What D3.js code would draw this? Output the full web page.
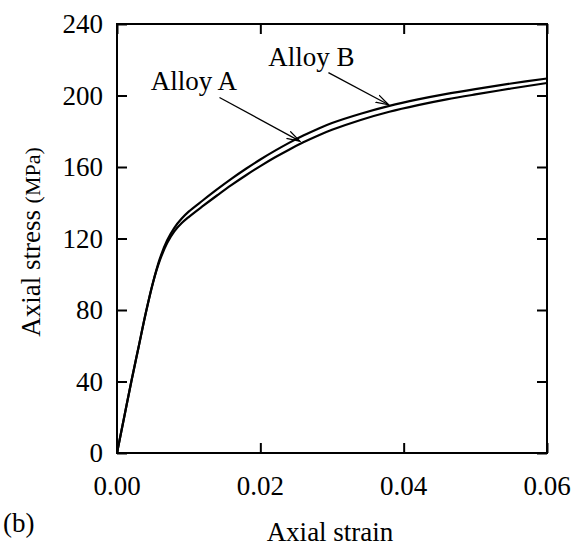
<!DOCTYPE html>
<html>
<head>
<meta charset="utf-8">
<script src="https://cdn.jsdelivr.net/npm/d3@7"></script>
<style>
  html, body { margin: 0; padding: 0; background: #fff; }
  svg { display: block; }
  text { font-family: "Liberation Serif", "Times New Roman", serif; fill: #000; }
</style>
</head>
<body>
<svg id="chart" width="572" height="549"></svg>
<script>
// ---- data ----
const strain = [0, 0.001, 0.002, 0.003, 0.004, 0.005, 0.006, 0.007, 0.008, 0.009, 0.010,
  0.012, 0.014, 0.016, 0.018, 0.020, 0.022, 0.024, 0.026, 0.028, 0.030, 0.034, 0.038,
  0.042, 0.046, 0.050, 0.055, 0.060];
const alloyB = [0, 20, 40, 59, 78, 95, 109, 119, 126, 131, 135,
  141.4, 147.6, 153.5, 159.0, 164.2, 169.0, 173.5, 177.6, 181.3, 184.6, 189.8, 194.2,
  197.8, 200.9, 203.6, 206.7, 209.5];
const alloyA = [0, 20, 40, 59, 78, 95, 108, 117.5, 124, 128.5, 132,
  138.2, 144.2, 150.0, 155.4, 160.5, 165.3, 169.7, 173.8, 177.5, 180.8, 186.3, 190.9,
  194.6, 197.8, 200.6, 203.9, 207];
const xTicks = [0, 0.02, 0.04, 0.06];
const yTicks = [0, 40, 80, 120, 160, 200, 240];
const xTickLabels = ["0.00", "0.02", "0.04", "0.06"];
const yTickLabels = ["0", "40", "80", "120", "160", "200", "240"];
// annotations (data coordinates)
const annotLabels = ["Alloy A", "Alloy B"];
const annotText = [[0.0047, 203], [0.0211, 216.6]];
const annotFrom = [[0.0143, 198.9], [0.0295, 212.8]];
const annotTo = [[0.0255, 174.5], [0.0379, 194.8]];

// ---- layout ----
const svg = d3.select("#chart");
const L = 117, R = 547, T = 24, B = 453;
const x = d3.scaleLinear().domain([0, 0.06]).range([L, R]);
const y = d3.scaleLinear().domain([0, 240]).range([B, T]);
const FS = 27;

// frame
svg.append("rect").attr("x", L).attr("y", T).attr("width", R - L).attr("height", B - T)
  .attr("fill", "none").attr("stroke", "#000").attr("stroke-width", 2);

// axes with inward ticks
const tl = 10;
const gx = svg.append("g").attr("transform", `translate(0,${B})`)
  .call(d3.axisTop(x).tickValues(xTicks).tickSize(tl).tickFormat(""));
const gxt = svg.append("g").attr("transform", `translate(0,${T})`)
  .call(d3.axisBottom(x).tickValues(xTicks).tickSize(tl).tickFormat(""));
const gy = svg.append("g").attr("transform", `translate(${L},0)`)
  .call(d3.axisRight(y).tickValues(yTicks).tickSize(tl).tickFormat(""));
const gyr = svg.append("g").attr("transform", `translate(${R},0)`)
  .call(d3.axisLeft(y).tickValues(yTicks).tickSize(tl).tickFormat(""));
[gx, gxt, gy, gyr].forEach(g => {
  g.select(".domain").remove();
  g.selectAll("line").attr("stroke", "#000").attr("stroke-width", 2);
});

// tick labels
svg.append("g").selectAll("text").data(xTicks).join("text")
  .attr("x", d => x(d)).attr("y", B + 42)
  .attr("text-anchor", "middle").attr("font-size", FS)
  .text((d, i) => xTickLabels[i]);
svg.append("g").selectAll("text").data(yTicks).join("text")
  .attr("x", L - 14).attr("y", d => y(d)).attr("dy", "0.34em")
  .attr("text-anchor", "end").attr("font-size", FS)
  .text((d, i) => yTickLabels[i]);

// axis titles
svg.append("text").attr("x", 330).attr("y", 541).attr("text-anchor", "middle")
  .attr("font-size", FS).text("Axial strain");
const yl = svg.append("text").attr("transform", `translate(40,242) rotate(-90)`)
  .attr("text-anchor", "middle").attr("font-size", FS);
yl.append("tspan").text("Axial stress ");
yl.append("tspan").attr("font-size", 22).text("(MPa)");
svg.append("text").attr("x", 3).attr("y", 532).attr("font-size", FS).text("(b)");

// curves
const line = d3.line().x(d => x(d[0])).y(d => y(d[1])).curve(d3.curveCatmullRom.alpha(0.5));
svg.append("path").datum(strain.map((s, i) => [s, alloyA[i]]))
  .attr("d", line).attr("fill", "none").attr("stroke", "#000").attr("stroke-width", 2.2);
svg.append("path").datum(strain.map((s, i) => [s, alloyB[i]]))
  .attr("d", line).attr("fill", "none").attr("stroke", "#000").attr("stroke-width", 2.2);

// annotations
svg.append("defs").append("marker").attr("id", "arr")
  .attr("viewBox", "0 0 14 10").attr("refX", 13).attr("refY", 5)
  .attr("markerWidth", 14).attr("markerHeight", 10).attr("markerUnits", "userSpaceOnUse")
  .attr("orient", "auto")
  .append("path").attr("d", "M0,1 L13,5 L0,9").attr("fill", "none")
  .attr("stroke", "#000").attr("stroke-width", 1.3);
annotLabels.forEach((lab, i) => {
  svg.append("text").attr("x", x(annotText[i][0])).attr("y", y(annotText[i][1]))
    .attr("font-size", FS).text(lab);
  svg.append("line")
    .attr("x1", x(annotFrom[i][0])).attr("y1", y(annotFrom[i][1]))
    .attr("x2", x(annotTo[i][0])).attr("y2", y(annotTo[i][1]))
    .attr("stroke", "#000").attr("stroke-width", 1.3).attr("marker-end", "url(#arr)");
});
</script>
</body>
</html>
